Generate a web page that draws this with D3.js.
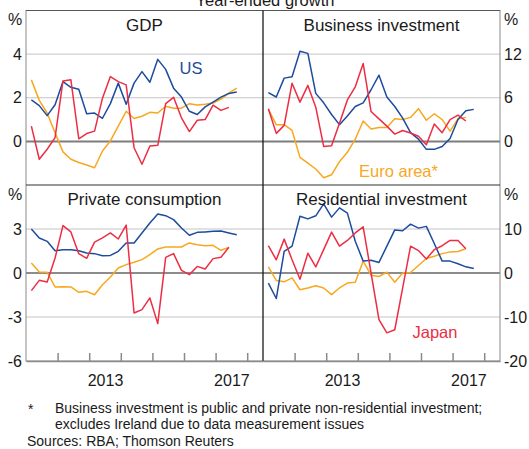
<!DOCTYPE html>
<html><head><meta charset="utf-8">
<script src="https://cdn.jsdelivr.net/npm/d3@7"></script>
<style>
body{margin:0;background:#fff}
text{font-family:"Liberation Sans",Arial,sans-serif;fill:#1a1a1a}
</style>
</head><body><svg id="c" width="529" height="449"></svg>
<script>
// ---- data (year-ended growth, %) ----
const quarters = ["2011Q1","2011Q2","2011Q3","2011Q4","2012Q1","2012Q2","2012Q3","2012Q4",
  "2013Q1","2013Q2","2013Q3","2013Q4","2014Q1","2014Q2","2014Q3","2014Q4",
  "2015Q1","2015Q2","2015Q3","2015Q4","2016Q1","2016Q2","2016Q3","2016Q4",
  "2017Q1","2017Q2","2017Q3"];

const gdpUS    = [1.9,1.64,1.18,1.68,2.74,2.48,2.39,1.27,1.30,1.06,1.73,2.67,1.70,2.67,3.20,2.71,3.76,3.30,2.44,2.03,1.38,1.23,1.58,1.80,2.03,2.20,2.26];
const gdpEuro  = [2.82,1.88,1.30,0.39,-0.48,-0.82,-0.97,-1.08,-1.21,-0.44,0.02,0.70,1.38,1.05,1.15,1.33,1.30,1.61,1.52,1.52,1.73,1.67,1.70,1.76,1.94,2.21,2.44];
const gdpJapan = [0.70,-0.82,-0.36,0.17,2.77,2.82,0.12,0.36,0.47,1.98,2.97,2.74,2.59,-0.29,-1.05,-0.21,-0.18,1.73,2.02,1.08,0.45,0.97,1.00,1.66,1.42,1.56];

const biUS    = [6.7,6.1,8.7,8.9,12.4,12.1,6.6,5.3,3.7,2.3,3.5,4.8,5.3,7.1,9.1,6.1,4.8,3.2,1.2,0.3,-1.1,-1.1,-0.7,0.4,3.0,4.2,4.4];
const biEuro  = [4.4,2.3,2.3,1.5,-2.2,-3.0,-3.8,-5.0,-4.6,-2.8,-1.5,0.3,2.8,1.7,1.9,1.9,3.1,3.0,3.3,4.5,2.9,3.8,3.0,1.4,3.1,3.3];
const biJapan = [4.5,1.1,2.2,8.0,5.4,7.7,4.7,-0.7,-0.6,2.5,5.7,7.5,10.7,4.1,3.1,2.1,1.0,1.5,1.15,0.7,-0.45,2.4,1.2,3.0,3.6,2.8];

const pcUS    = [3.0,2.39,2.16,1.52,1.59,1.59,1.52,1.36,1.32,1.18,1.2,1.48,2.05,2.05,2.73,3.41,4.02,3.91,3.64,3.07,2.57,2.77,2.8,2.84,2.86,2.73,2.61];
const pcEuro  = [0.68,0.07,0.05,-0.95,-0.93,-0.95,-1.32,-1.25,-1.48,-0.8,-0.27,0.34,0.57,0.73,0.91,1.25,1.64,1.77,1.77,1.77,2.05,1.93,1.86,1.89,1.55,1.75];
const pcJapan = [-1.2,-0.5,-0.61,1.02,3.23,2.8,1.32,1.0,2.11,2.39,2.73,2.32,3.27,-2.73,-2.5,-1.7,-3.45,1.07,1.32,0.18,-0.11,0.45,0.27,0.98,1.07,1.75];

const riUS    = [-2.3,-5.8,4.9,6.1,12.9,12.3,13.0,15.7,12.7,14.8,13.6,7.2,2.7,2.9,2.4,6.1,9.8,9.6,11.1,10.2,10.6,6.7,2.7,2.7,2.1,1.4,1.0];
const riEuro  = [1.4,-1.7,-2.0,-1.1,-3.8,-3.4,-2.9,-3.4,-4.9,-3.4,-2.3,-2.1,2.7,-0.5,-0.8,0.2,-2.1,0.0,0.1,1.7,3.3,3.8,4.4,4.8,4.9,5.5];
const riJapan = [6.2,3.0,7.7,3.0,-1.4,4.5,1.4,5.3,9.3,6.1,7.4,9.1,10.5,0.0,-10.6,-13.6,-12.9,-3.4,6.1,5.1,3.2,5.3,6.2,7.4,7.4,5.5];

const panelTitles = ["GDP","Business investment","Private consumption","Residential investment"];
const topLeftTicks = [0,2,4], topRightTicks = [0,6,12];
const botLeftTicks = [-6,-3,0,3], botRightTicks = [-20,-10,0,10];
const yearTicks = [2012,2013,2014,2015,2016,2017,2018];
const yearLabels = [2013,2017];

const colors = {US:"#1d4c9c", Euro:"#f7a81e", Japan:"#ec2d43"};

// ---- layout ----
const svg = d3.select("#c");
const L = {x0:26, xm:263, x1:500, y0:10.5, ym:185, y1:361};
const xDomain = [2011, 2018.5];
const xLeft  = d3.scaleLinear().domain(xDomain).range([L.x0, L.xm]);
const xRight = d3.scaleLinear().domain(xDomain).range([L.xm, L.x1]);
const yTopL = d3.scaleLinear().domain([-2,6]).range([L.ym, L.y0]);
const yTopR = d3.scaleLinear().domain([-6,18]).range([L.ym, L.y0]);
const yBotL = d3.scaleLinear().domain([-6,6]).range([L.y1, L.ym]);
const yBotR = d3.scaleLinear().domain([-20,20]).range([L.y1, L.ym]);

function qTime(q){ return +q.slice(0,4) + (+q.slice(5)-1)/4 + 0.17; }

// gridlines
function grid(scale, vals, color, w){
  svg.append("g").selectAll("line").data(vals).join("line")
    .attr("x1", L.x0).attr("x2", L.x1)
    .attr("y1", d=>scale(d)).attr("y2", d=>scale(d))
    .attr("stroke", color).attr("stroke-width", w);
}
grid(yTopL, [2,4], "#c4c4c4", 1);
grid(yBotL, [3,-3], "#c4c4c4", 1);
grid(yTopL, [0], "#7d7d7d", 2);
grid(yBotL, [0], "#1a1a1a", 1.2);

// lines
function drawLines(xs, ys, series){
  series.forEach(s=>{
    const pts = s.values.map((v,i)=>[qTime(quarters[i]), v]);
    svg.append("path").datum(pts)
      .attr("fill","none").attr("stroke", s.color).attr("stroke-width",1.5)
      .attr("stroke-linejoin","round")
      .attr("d", d3.line().x(d=>xs(d[0])).y(d=>ys(d[1])));
  });
}
drawLines(xLeft, yTopL, [{values:gdpEuro,color:colors.Euro},{values:gdpUS,color:colors.US},{values:gdpJapan,color:colors.Japan}]);
drawLines(xRight, yTopR, [{values:biEuro,color:colors.Euro},{values:biUS,color:colors.US},{values:biJapan,color:colors.Japan}]);
drawLines(xLeft, yBotL, [{values:pcEuro,color:colors.Euro},{values:pcUS,color:colors.US},{values:pcJapan,color:colors.Japan}]);
drawLines(xRight, yBotR, [{values:riEuro,color:colors.Euro},{values:riUS,color:colors.US},{values:riJapan,color:colors.Japan}]);

// frame
svg.append("rect").attr("x",L.x0).attr("y",L.y0).attr("width",L.x1-L.x0).attr("height",L.y1-L.y0)
  .attr("fill","none").attr("stroke","#8a8a8a").attr("stroke-width",1);
svg.append("line").attr("x1",L.x0).attr("x2",L.x1).attr("y1",L.y0).attr("y2",L.y0).attr("stroke","#555").attr("stroke-width",1);
svg.append("line").attr("x1",L.x0).attr("x2",L.x1).attr("y1",L.ym).attr("y2",L.ym).attr("stroke","#333").attr("stroke-width",1.2);
svg.append("line").attr("x1",L.xm).attr("x2",L.xm).attr("y1",L.y0).attr("y2",L.y1).attr("stroke","#1a1a1a").attr("stroke-width",1.3);

// bottom axes (inward ticks)
[xLeft, xRight].forEach(xs=>{
  const g = svg.append("g").attr("transform",`translate(0,${L.y1})`)
    .call(d3.axisBottom(xs).tickValues(yearTicks).tickSize(-8).tickSizeOuter(0).tickFormat(""));
  g.select(".domain").attr("stroke","#8a8a8a").attr("stroke-width",1.5);
  g.selectAll(".tick line").attr("stroke","#8a8a8a").attr("stroke-width",1.5);
  const gl = svg.append("g").attr("transform",`translate(0,${L.y1})`)
    .call(d3.axisBottom(xs).tickValues(yearLabels.map(y=>y+0.5)).tickSize(0).tickPadding(13.5).tickFormat(d=>Math.floor(d)));
  gl.select(".domain").remove();
  gl.selectAll("text").attr("font-size",16).attr("font-family",null).attr("fill","#1a1a1a");
});

// y axes (hyphen-minus as in the reference)
function yAxis(axisFn, scale, vals, x){
  const g = svg.append("g").attr("transform",`translate(${x},0)`)
    .call(axisFn(scale).tickValues(vals).tickSize(0).tickPadding(4).tickFormat(d=>String(d)));
  g.select(".domain").remove();
  g.selectAll("text").attr("font-size",16).attr("font-family",null).attr("fill","#1a1a1a");
}
yAxis(d3.axisLeft, yTopL, topLeftTicks, L.x0);
yAxis(d3.axisRight, yTopR, topRightTicks, L.x1);
yAxis(d3.axisLeft, yBotL, botLeftTicks, L.x0);
yAxis(d3.axisRight, yBotR, botRightTicks, L.x1);

// % unit labels
[[15,25],[15,200]].forEach(p=>svg.append("text").attr("x",p[0]).attr("y",p[1]).attr("text-anchor","middle").attr("font-size",16).text("%"));
[[511,25],[511,200]].forEach(p=>svg.append("text").attr("x",p[0]).attr("y",p[1]).attr("text-anchor","middle").attr("font-size",16).text("%"));

// panel titles
const titlePos = [[(L.x0+L.xm)/2,31],[(L.xm+L.x1)/2,31],[(L.x0+L.xm)/2,205],[(L.xm+L.x1)/2,205]];
panelTitles.forEach((t,i)=>svg.append("text").attr("x",titlePos[i][0]).attr("y",titlePos[i][1])
  .attr("text-anchor","middle").attr("font-size",17).text(t));

// series labels
svg.append("text").attr("x",191).attr("y",74).attr("text-anchor","middle").attr("font-size",16.5).style("fill",colors.US).text("US");
svg.append("text").attr("x",398.5).attr("y",177).attr("text-anchor","middle").attr("font-size",16.5).style("fill",colors.Euro).text("Euro area*");
svg.append("text").attr("x",435).attr("y",338).attr("text-anchor","middle").attr("font-size",16.5).style("fill",colors.Japan).text("Japan");

// top title (cut off at the top edge, as in the reference)
svg.append("text").attr("x",265).attr("y",6).attr("text-anchor","middle").attr("font-size",16.5).text("Year-ended growth");

// footnotes
svg.append("text").attr("x",28).attr("y",414).attr("font-size",14).text("*");
svg.append("text").attr("x",55).attr("y",413).attr("font-size",14).text("Business investment is public and private non-residential investment;");
svg.append("text").attr("x",55).attr("y",429).attr("font-size",14).text("excludes Ireland due to data measurement issues");
svg.append("text").attr("x",27).attr("y",446).attr("font-size",14).text("Sources: RBA; Thomson Reuters");
</script>
</body></html>
